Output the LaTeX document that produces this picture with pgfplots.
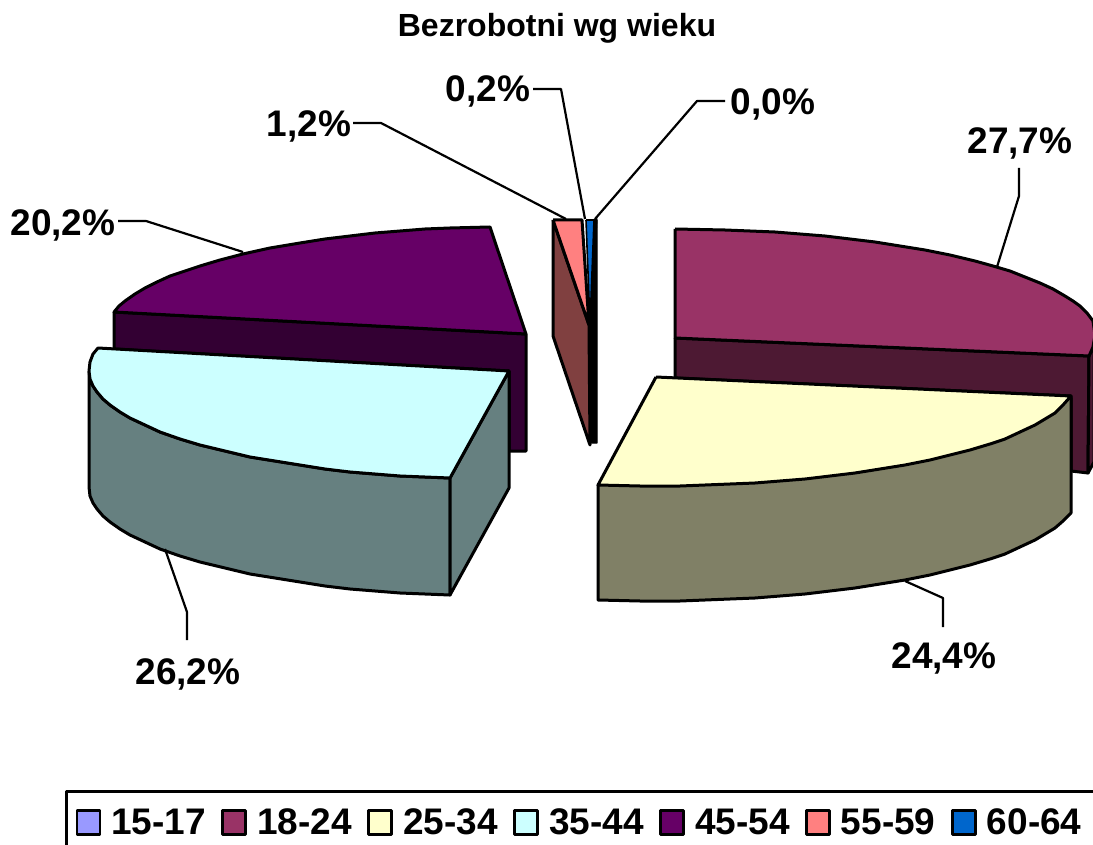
\documentclass[border=0pt]{standalone}
\usepackage{pgfplots}
\pgfplotsset{compat=1.18}
\usepackage{fontspec}
\setmainfont{Liberation Sans}
\definecolor{cA}{HTML}{9999FF}
\definecolor{cB}{HTML}{993366}
\definecolor{cBs}{HTML}{4D1933}
\definecolor{cC}{HTML}{FFFFCC}
\definecolor{cCs}{HTML}{808066}
\definecolor{cD}{HTML}{CCFFFF}
\definecolor{cDs}{HTML}{668080}
\definecolor{cE}{HTML}{660066}
\definecolor{cEs}{HTML}{330033}
\definecolor{cF}{HTML}{FF8080}
\definecolor{cFs}{HTML}{804040}
\definecolor{cG}{HTML}{0066CC}
\newcommand{\lab}{\bfseries\fontsize{37}{40}\selectfont}
\begin{document}
\begin{tikzpicture}
\begin{axis}[
  at={(0pt,0pt)}, anchor=south west,
  width=1093pt, height=845pt, scale only axis,
  xmin=0, xmax=1093, ymin=0, ymax=845, y dir=reverse,
  hide axis,
  every axis plot/.append style={line width=3pt, line join=round},
  legend columns=-1,
  legend style={at={(axis cs:75.5,807.5)}, anchor=north west, draw=none, fill=none,
    inner sep=0pt, outer sep=0pt, font=\lab,
    /tikz/every odd column/.append style={column sep=9pt},
    /tikz/every even column/.append style={column sep=14.5pt},
    nodes={inner sep=1pt, outer sep=0pt, anchor=base west}},
  legend image code/.code={\draw[#1, line width=2.8pt] (0pt,0pt) rectangle (23pt,24pt);},
]
% 15-17
\addplot[fill=cA, draw=black] coordinates {(595,219)(596,219)(590,325)(595,219)};
\addlegendentry{15-17}
% 18-24
\addplot[fill=cBs, draw=black, forget plot] coordinates {(675,338)(1089,356)(1088,473)(1071,471)(1071,396)(675,378)(675,338)};
\addplot[fill=cBs, draw=black, forget plot] coordinates {(1089,356)(1094,345)(1094,462)(1088,473)(1089,356)};
\addplot[fill=cB, draw=black] coordinates {(675,229)(725,230)(750,231)(775,232)(800,234)(825,236)(850,239)(875,242)(900,246)(925,250)(950,255)(975,261)(993,266)(1010,271)(1025,277)(1040,283)(1053,289)(1065,296)(1073,301)(1080,306)(1087,313)(1093,321)(1095,335)(1093,347)(1089,356)(675,338)(675,229)};
\addlegendentry{18-24}
% 25-34
\addplot[fill=cCs, draw=black, forget plot] coordinates {(598,485)(598,600)(640,601)(680,601)(730,599)(755,598)(780,596)(805,594)(830,591)(855,588)(880,584)(905,580)(930,575)(950,570)(970,565)(990,559)(1005,554)(1020,547)(1035,540)(1045,534)(1055,528)(1063,521)(1071,513)(1071,398)(598,485)};
\addplot[fill=cC, draw=black] coordinates {(656,377)(1071,396)(1063,405)(1055,413)(1045,419)(1035,425)(1020,432)(1005,439)(990,444)(970,450)(950,455)(930,460)(905,465)(880,469)(855,473)(830,476)(805,479)(780,481)(755,483)(730,484)(680,486)(640,486)(598,485)(656,377)};
\addlegendentry{25-34}
% 45-54 side (behind 35-44)
\addplot[fill=cEs, draw=black, forget plot] coordinates {(114,312)(526,334)(526,451)(509,451)(509,371)(114,349)(114,312)};
% 35-44
\addplot[fill=cDs, draw=black, forget plot] coordinates {(89,371)(89,487)(90,496)(93,503)(97,509)(103,516)(110,522)(120,529)(130,535)(145,542)(160,549)(180,556)(200,562)(225,568)(250,574)(275,578)(300,582)(325,586)(350,589)(375,591)(400,593)(425,594)(450,595)(450,478)(425,477)(400,476)(375,474)(350,472)(325,469)(300,465)(275,461)(250,457)(225,451)(200,445)(180,439)(160,432)(145,425)(130,418)(120,412)(110,405)(103,399)(97,392)(93,386)(90,379)(89,371)};
\addplot[fill=cDs, draw=black, forget plot] coordinates {(450,478)(450,595)(509,488)(509,371)(450,478)};
\addplot[fill=cD, draw=black] coordinates {(509,371)(98,348)(93,354)(90,362)(89,371)(90,379)(93,386)(97,392)(103,399)(110,405)(120,412)(130,418)(145,425)(160,432)(180,439)(200,445)(225,451)(250,457)(275,461)(300,465)(325,469)(350,472)(375,474)(400,476)(425,477)(450,478)(509,371)};
\addlegendentry{35-44}
% 45-54 top
\addplot[fill=cE, draw=black] coordinates {(526,334)(114,312)(119,306)(125,301)(135,294)(145,288)(157,282)(170,276)(185,271)(200,266)(220,260)(243,254)(270,248)(300,243)(325,239)(350,236)(375,233)(400,231)(425,229)(450,228)(490,227)(526,334)};
\addlegendentry{45-54}
% 55-59
\addplot[fill=cFs, draw=black, forget plot] coordinates {(553,220)(589,325)(590,445)(553,336)(553,220)};
\addplot[fill=cF, draw=black] coordinates {(553,220)(582,220)(589,325)(553,220)};
\addlegendentry{55-59}
% 60-64
\addplot[fill=black, draw=black, line width=1pt, forget plot] coordinates {(590,325)(594,220)(597,220)(597,443)(590,443)(590,325)};
\addplot[fill=cG, draw=black, line width=1.6pt] coordinates {(586,220)(594,220)(590,325)(586,220)};
\addlegendentry{60-64}
% leaders
\addplot[draw=black, line width=2.2pt, forget plot] coordinates {(1019,168)(1019,196)(997,267)};
\addplot[draw=black, line width=2.2pt, forget plot] coordinates {(943,627)(943,598)(905,581)};
\addplot[draw=black, line width=2.2pt, forget plot] coordinates {(187,640)(187,612)(165,549)};
\addplot[draw=black, line width=2.2pt, forget plot] coordinates {(118,221)(146,221)(243,252)};
\addplot[draw=black, line width=2.2pt, forget plot] coordinates {(353,123)(381,123)(566,219)};
\addplot[draw=black, line width=2.2pt, forget plot] coordinates {(533,89)(561,89)(585,219)};
\addplot[draw=black, line width=2.2pt, forget plot] coordinates {(725,101)(697,101)(595,219)};
% legend frame
\addplot[draw=black, line width=3pt, forget plot] coordinates {(66,850)(66,791)(1100,791)};
% labels
\node[font=\bfseries\fontsize{32}{34}\selectfont] at (axis cs:557,28) {Bezrobotni wg wieku};
\node[font=\lab] at (axis cs:1020,143) {27,7\%};
\node[font=\lab] at (axis cs:944,658) {24,4\%};
\node[font=\lab] at (axis cs:188,674) {26,2\%};
\node[font=\lab] at (axis cs:63,225) {20,2\%};
\node[font=\lab] at (axis cs:309,126) {1,2\%};
\node[font=\lab] at (axis cs:488,91) {0,2\%};
\node[font=\lab] at (axis cs:773,104) {0,0\%};
\end{axis}
\pgfresetboundingbox
\path[use as bounding box] (0pt,0pt) rectangle (1093pt,845pt);
\end{tikzpicture}
\end{document}
